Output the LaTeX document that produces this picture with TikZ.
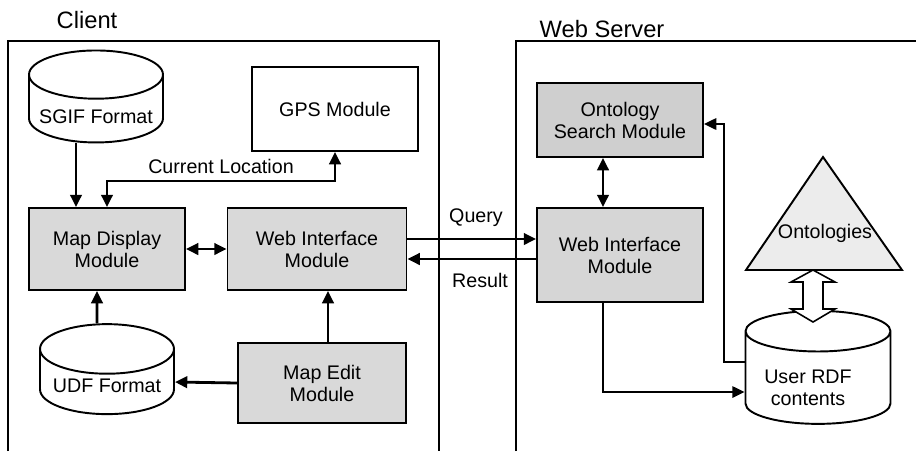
\documentclass[tikz,border=0pt]{standalone}
\usepackage{fontspec}
\setmainfont{Liberation Sans}
\usetikzlibrary{arrows.meta,shapes.geometric}

\begin{document}
\begin{tikzpicture}[x=0.02cm,y=-0.02cm,font=\fontsize{11.2}{12.5}\selectfont]

    \tikzset{
      module/.style={
        draw,
        line width=1.1pt,
        fill=gray!30,
        align=center,
        inner sep=0pt,
      },
      store/.style={
        draw,
        line width=1.1pt,
        fill=white,
        cylinder,
        shape border rotate=90,
        aspect=0.36,
        inner sep=0pt,
      },
      title/.style={font=\fontsize{13.5}{16}\selectfont},
      flow/.style={line width=1.6pt,-{Triangle[length=7pt,width=6.5pt]}},
      flows/.style={line width=1.6pt,{Triangle[length=7pt,width=6.5pt]}-{Triangle[length=7pt,width=6.5pt]}},
      thinflow/.style={line width=1.1pt,-{Triangle[length=7pt,width=6.5pt]}},
      frame/.style={line width=1pt},
    }
    \useasboundingbox (0,0) rectangle (916,451);

    % frames
    \draw[frame] (8,451) -- (8,41) -- (439,41) -- (439,451);
    \draw[frame] (516,451) -- (516,41) -- (916,41);
    \node[title] (client) at (87,20) {Client};
    \node[title] (server) at (602,29) {Web Server};

    % client side
    \node[store, text width=2.68cm, minimum width=2.68cm, minimum height=1.84cm] (sgif) at (96,109) {};
    \node (sgiftext) at (96,117) {SGIF Format};
    \node[module, fill=white, minimum width=3.32cm, minimum height=1.68cm] (gps) at (335,109) {GPS Module};
    \node[module, minimum width=3.12cm, minimum height=1.64cm] (mapdisp) at (107,249) {Map Display\\Module};
    \node[module, minimum width=3.58cm, minimum height=1.64cm] (cwim) at (317,249) {Web Interface\\Module};
    \node[store, text width=2.68cm, minimum width=2.68cm, minimum height=1.80cm, aspect=0.37] (udf) at (107,382) {};
    \node (udftext) at (107,386) {UDF Format};
    \node[module, minimum width=3.36cm, minimum height=1.60cm] (medit) at (322,383) {Map Edit\\Module};

    % server side
    \node[module, fill=gray!38, minimum width=3.32cm, minimum height=1.48cm] (osm) at (620,120) {Ontology\\Search Module};
    \node[module, fill=gray!32, minimum width=3.32cm, minimum height=1.88cm] (swim) at (620,255) {Web Interface\\Module};
    \node[store, text width=2.90cm, minimum width=2.90cm, minimum height=2.26cm, aspect=0.28] (rdf) at (818,378) {};
    \node[align=center] (rdftext) at (808,388) {User RDF\\contents};
    \draw[line width=1.1pt, fill=gray!15] (823,157) -- (902,270) -- (746,270) -- cycle;
    \node (onto) at (825,233) {Ontologies};
    \coordinate (ontobase) at (813,270);

    % connectors
    \draw[flow] ([xshift=-0.4cm]sgif.south) -- ([xshift=-0.4cm]sgif.south |- mapdisp.north);
    \draw[flows] (gps.south) -- ++(0,29) -| node[pos=0.25, above] {Current Location} (mapdisp.north);
    \draw[flows] (mapdisp) -- (cwim);
    \draw[flow] ([xshift=-0.2cm]udf.north) -- ([xshift=-0.2cm]mapdisp.south);
    \draw[flow] ([xshift=0.12cm]medit.north) -- ([xshift=0.12cm]medit.north |- cwim.south);
    \draw[flow] (medit.west) -- (udf.east);
    \draw[flow] ([yshift=0.2cm]cwim.east) -- ([yshift=0.2cm]cwim.east -| swim.west);
    \draw[flow] ([yshift=-0.2cm]cwim.east -| swim.west) -- ([yshift=-0.2cm]cwim.east);
    \node (query) at (476,218) {Query};
    \node (result) at (480,280) {Result};
    \draw[flows] ([xshift=-0.34cm]osm.south) -- ([xshift=-0.34cm]swim.north);
    \draw[thinflow] ([xshift=-0.34cm]swim.south) |- ([yshift=-0.28cm]rdf.west);
    \draw[thinflow] ([yshift=0.32cm]rdf.west) -- ++(-21,0) |- ([yshift=-0.08cm]osm.east);
    \draw[line width=0.9pt, fill=white] (ontobase) -- ++(22,12) -- ++(-12,0) -- ++(0,27)
      -- ++(12,0) -- ++(-22,13) -- ++(-22,-13) -- ++(12,0) -- ++(0,-27) -- ++(-12,0) -- cycle;

\end{tikzpicture}
\end{document}
